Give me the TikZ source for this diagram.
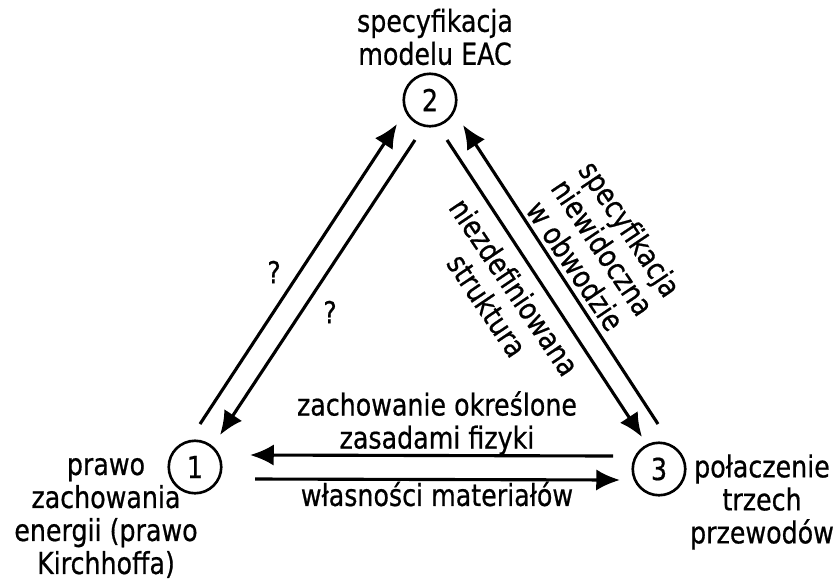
\documentclass[tikz,border=0pt]{standalone}
\usepackage{fontspec}
\setmainfont{DejaVu Sans Condensed}[FakeStretch=0.93,FakeBold=0.6]
\usetikzlibrary{arrows.meta}

\begin{document}
\begin{tikzpicture}[x=0.4pt,y=-0.4pt,
		every node/.style={font=\fontsize{12.1}{13.2}\selectfont},
		vertex/.style={draw,circle,line width=1.05pt,minimum size=21pt,inner sep=0pt},
		arr/.style={-{Latex[length=9.5pt,width=8.5pt]},line width=1.25pt},
		lbl/.style={align=center}]
		\useasboundingbox (0,0) rectangle (838,581);
		% the three stages
		\node[vertex] (n1) at (195,467) {1};
		\node[vertex] (n2) at (430,100) {2};
		\node[vertex] (n3) at (659,469) {3};
		% arrows between them
		\draw[arr] ([shift={(5,-43)}]n1.center) -- ([shift={(-33,24)}]n2.center);
		\draw[arr] ([shift={(-15,40)}]n2.center) -- ([shift={(25,-32)}]n1.center);
		\draw[arr] ([shift={(17,40)}]n2.center) -- ([shift={(-17,-32)}]n3.center);
		\draw[arr] ([shift={(-1,-45)}]n3.center) -- ([shift={(33,25)}]n2.center);
		\draw[arr] ([shift={(-46,-13)}]n3.center) -- ([shift={(55,-12)}]n1.center);
		\draw[arr] ([shift={(60,12)}]n1.center) -- ([shift={(-39,11)}]n3.center);
		% labels
		\node[lbl] (t2) at (435,37) {specyfikacja\\modelu EAC};
		\node[lbl] (t1) at (106,518) {prawo\\zachowania\\energii (prawo\\Kirchhoffa)};
		\node[lbl] (t3) at (762,502) {połaczenie\\trzech\\przewodów};
		\node[lbl] (t31) at (437,423) {zachowanie określone\\zasadami fizyki};
		\node[lbl] (t13) at (437,494) {własności materiałów};
		\node[lbl] (q12) at (274,272) {?};
		\node[lbl] (q21) at (330,312) {?};
		\node[lbl,rotate=-56] (t23) at (501,296) {niezdefiniowana\\struktura};
		\node[lbl,rotate=-56] (t32) at (603,247) {specyfikacja\\niewidoczna\\w obwodzie};
	\end{tikzpicture}
\end{document}
